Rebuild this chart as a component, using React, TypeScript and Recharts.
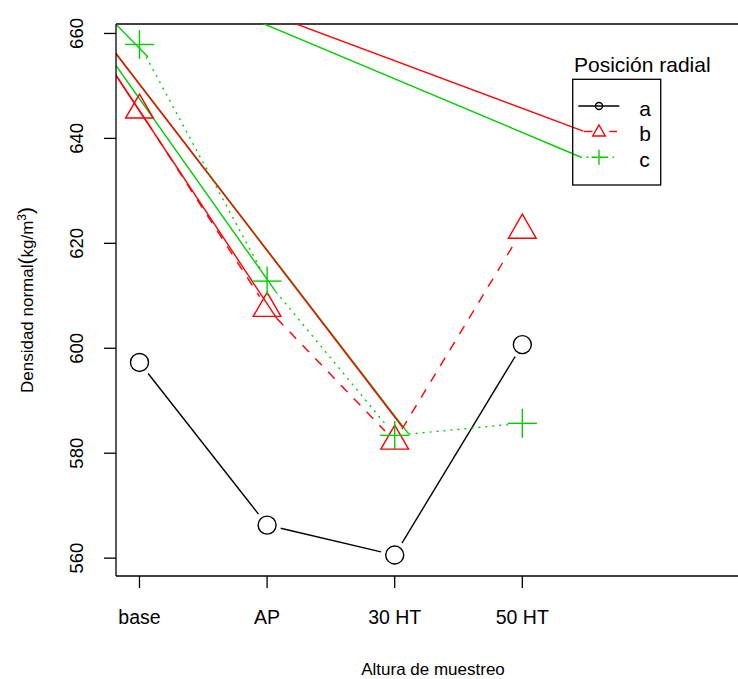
import React from 'react';
import { LineChart, Line, XAxis, YAxis, ReferenceLine, Legend } from 'recharts';

// Sampling heights along the stem and their numeric positions on the x axis
const categories = ['base', 'AP', '30 HT', '50 HT'];
const categoryPositions = [1, 2, 3, 4];

// Mean normal density (kg/m3) for each radial position
const densityA = [597.3, 566.3, 560.6, 600.7];
const densityB = [645.4, 607.6, 582.3, 622.5];
const densityC = [657.9, 612.8, 583.4, 585.7];

const yTicks = [560, 580, 600, 620, 640, 660];
const xDomain: [number, number] = [0.816, 5.784];
const yDomain: [number, number] = [556.6, 661.8];

// Straight strokes that fan out from one point outside the plot region
const strayOrigin = { x: 0, y: 682 };
const strayEndsB = [
  { x: 1.059, y: 643.1 },
  { x: 2.076, y: 605.7 },
  { x: 3.06, y: 585.0 },
  { x: 4.478, y: 641.4 },
];
const strayEndsC = [
  { x: 1.067, y: 655.5 },
  { x: 2.068, y: 610.8 },
  { x: 3.109, y: 583.7 },
  { x: 4.452, y: 636.5 },
];

const FONT = '"Liberation Sans", Arial, Helvetica, sans-serif';
const RED = '#FF0000';
const GREEN = '#00CD00';
const BLACK = '#000000';
const LW = 1.4;
const GAP = 14;

type MarkerKind = 'circle' | 'triangle' | 'plus';

function marker(kind: MarkerKind, cx: number, cy: number, color: string, s: number) {
  if (kind === 'circle') {
    return <circle cx={cx} cy={cy} r={s} fill="none" stroke={color} strokeWidth={LW} />;
  }
  if (kind === 'triangle') {
    const r = 1.555 * s;
    const xc = 1.347 * s;
    const yc = 0.778 * s;
    const d = `M${cx},${cy - r}L${cx + xc},${cy + yc}L${cx - xc},${cy + yc}Z`;
    return <path d={d} fill="none" stroke={color} strokeWidth={LW} strokeLinejoin="miter" />;
  }
  return (
    <g stroke={color} strokeWidth={LW}>
      <line x1={cx - s} y1={cy} x2={cx + s} y2={cy} />
      <line x1={cx} y1={cy - s} x2={cx} y2={cy + s} />
    </g>
  );
}

const pointCache: Record<string, { x: number; y: number }[]> = {};

// Dot renderer that draws the marker and, at the last point, the connecting
// segments with a small gap around each marker (type "b" look).
function makeDot(key: string, kind: MarkerKind, size: number, color: string, dash: string | undefined, count: number) {
  return (props: any) => {
    const { cx, cy, index } = props;
    if (!pointCache[key]) pointCache[key] = [];
    pointCache[key][index] = { x: cx, y: cy };
    const pts: { x: number; y: number }[] =
      props.points && props.points.length === count
        ? props.points.map((p: any) => ({ x: p.x, y: p.y }))
        : pointCache[key];
    const segs: React.ReactNode[] = [];
    if (index === count - 1) {
      for (let i = 0; i < count - 1; i++) {
        const a = pts[i];
        const b = pts[i + 1];
        if (!a || !b) continue;
        const dx = b.x - a.x;
        const dy = b.y - a.y;
        const L = Math.hypot(dx, dy);
        if (L <= 2 * GAP) continue;
        const ux = dx / L;
        const uy = dy / L;
        segs.push(
          <line
            key={`seg-${i}`}
            x1={a.x + ux * GAP}
            y1={a.y + uy * GAP}
            x2={b.x - ux * GAP}
            y2={b.y - uy * GAP}
            stroke={color}
            strokeWidth={LW}
            strokeDasharray={dash}
          />
        );
      }
    }
    return (
      <g key={`${key}-dot-${index}`}>
        {segs}
        {marker(kind, cx, cy, color, size)}
      </g>
    );
  };
}

const toSeries = (values: number[]) => categoryPositions.map((x, i) => ({ x, y: values[i] }));

const XTick = (props: any) => {
  const { x, y, payload } = props;
  const label = categories[categoryPositions.indexOf(payload.value)];
  return (
    <text x={x} y={y + 36} textAnchor="middle" fontSize={19.5} fontFamily={FONT} fill="#000">
      {label}
    </text>
  );
};

const YTick = (props: any) => {
  const { x, y, payload } = props;
  const tx = x - 20.5;
  return (
    <text
      x={tx}
      y={y}
      transform={`rotate(-90, ${tx}, ${y})`}
      textAnchor="middle"
      fontSize={18.5}
      fontFamily={FONT}
      fill="#000"
    >
      {payload.value}
    </text>
  );
};

const XTitle = (props: any) => {
  const vb = props.viewBox || { x: 116, y: 576, width: 634, height: 60 };
  return (
    <text x={vb.x + vb.width / 2} y={674.5} textAnchor="middle" fontSize={17} fontFamily={FONT} fill="#000">
      Altura de muestreo
    </text>
  );
};

const YTitle = (props: any) => {
  const vb = props.viewBox || { x: 56, y: 24, width: 60, height: 552 };
  const cx = 33;
  const cy = vb.y + vb.height / 2;
  return (
    <text
      x={cx}
      y={cy}
      transform={`rotate(-90, ${cx}, ${cy})`}
      textAnchor="middle"
      fontSize={17}
      fontFamily={FONT}
      fill="#000"
    >
      Densidad normal
      <tspan fontSize={21}>(</tspan>
      kg/m
      <tspan dy={-7} fontSize={12}>3</tspan>
      <tspan dy={7} fontSize={21}>)</tspan>
    </text>
  );
};

const legendItems = [
  { label: 'a', color: BLACK, kind: 'circle' as MarkerKind },
  { label: 'b', color: RED, kind: 'triangle' as MarkerKind },
  { label: 'c', color: GREEN, kind: 'plus' as MarkerKind },
];

const LegendBox = () => {
  const rowY = [106, 131.5, 157.3];
  return (
    <svg width={738} height={200} style={{ display: 'block', overflow: 'visible' }}>
      <text x={574} y={71.5} fontSize={21} fontFamily={FONT} fill="#000">
        Posición radial
      </text>
      <rect x={572.7} y={79.3} width={88} height={105.7} fill="none" stroke="#000" strokeWidth={1.3} />
      {legendItems.map((it, i) => {
        const y = rowY[i];
        let line: React.ReactNode;
        if (it.kind === 'circle') {
          line = <line x1={578.3} y1={y} x2={619.3} y2={y} stroke={it.color} strokeWidth={LW} />;
        } else if (it.kind === 'triangle') {
          line = (
            <g stroke={it.color} strokeWidth={LW}>
              <line x1={584} y1={y} x2={592.5} y2={y} />
              <line x1={609.5} y1={y} x2={617} y2={y} />
            </g>
          );
        } else {
          line = (
            <line x1={580} y1={y} x2={614} y2={y} stroke={it.color} strokeWidth={LW} strokeDasharray="2 4.5" />
          );
        }
        const sz = it.kind === 'circle' ? 3.5 : it.kind === 'triangle' ? 4.7 : 7.5;
        const my = it.kind === 'triangle' ? y + 0.8 : y;
        return (
          <g key={it.label}>
            {line}
            {marker(it.kind, 599, my, it.color, sz)}
            <text x={639.3} y={y + 9.5} fontSize={21} fontFamily={FONT} fill="#000">
              {it.label}
            </text>
          </g>
        );
      })}
    </svg>
  );
};

export default function App() {
  const dataA = toSeries(densityA);
  const dataB = toSeries(densityB);
  const dataC = toSeries(densityC);
  return (
    <div
      style={{
        position: 'fixed',
        left: 0,
        top: 0,
        width: 738,
        height: 679,
        overflow: 'hidden',
        background: '#fff',
      }}
    >
      <LineChart width={760} height={679} margin={{ top: 24, right: 10, bottom: 43, left: 56 }}>
        <XAxis
          type="number"
          dataKey="x"
          domain={xDomain}
          allowDataOverflow
          ticks={categoryPositions}
          interval={0}
          height={60}
          tickSize={12}
          tickMargin={0}
          tick={<XTick />}
          axisLine={{ stroke: '#000', strokeWidth: 1.3 }}
          tickLine={{ stroke: '#000', strokeWidth: 1.3 }}
          label={<XTitle />}
        />
        <YAxis
          type="number"
          domain={yDomain}
          allowDataOverflow
          ticks={yTicks}
          interval={0}
          width={60}
          tickSize={12}
          tickMargin={0}
          tick={<YTick />}
          axisLine={{ stroke: '#000', strokeWidth: 1.3 }}
          tickLine={{ stroke: '#000', strokeWidth: 1.3 }}
          label={<YTitle />}
        />
        <ReferenceLine y={yDomain[1]} stroke="#000" strokeWidth={1.3} />

        {strayEndsC.map((e, i) => (
          <Line
            key={`stray-c-${i}`}
            data={[strayOrigin, e]}
            dataKey="y"
            stroke={GREEN}
            strokeWidth={LW}
            dot={false}
            activeDot={false}
            isAnimationActive={false}
          />
        ))}
        {strayEndsB.map((e, i) => (
          <Line
            key={`stray-b-${i}`}
            data={[strayOrigin, e]}
            dataKey="y"
            stroke={RED}
            strokeWidth={LW}
            dot={false}
            activeDot={false}
            isAnimationActive={false}
          />
        ))}

        <Line
          data={dataA}
          dataKey="y"
          stroke="none"
          dot={makeDot('a', 'circle', 9, BLACK, undefined, dataA.length)}
          activeDot={false}
          isAnimationActive={false}
        />
        <Line
          data={dataB}
          dataKey="y"
          stroke="none"
          dot={makeDot('b', 'triangle', 10.3, RED, '9.5 9', dataB.length)}
          activeDot={false}
          isAnimationActive={false}
        />
        <Line
          data={dataC}
          dataKey="y"
          stroke="none"
          dot={makeDot('c', 'plus', 14.5, GREEN, '2 5', dataC.length)}
          activeDot={false}
          isAnimationActive={false}
        />

        <Legend
          layout="vertical"
          align="center"
          verticalAlign="middle"
          content={<LegendBox />}
          wrapperStyle={{ position: 'absolute', left: 0, top: 0, width: 738, height: 200 }}
        />
      </LineChart>
    </div>
  );
}
